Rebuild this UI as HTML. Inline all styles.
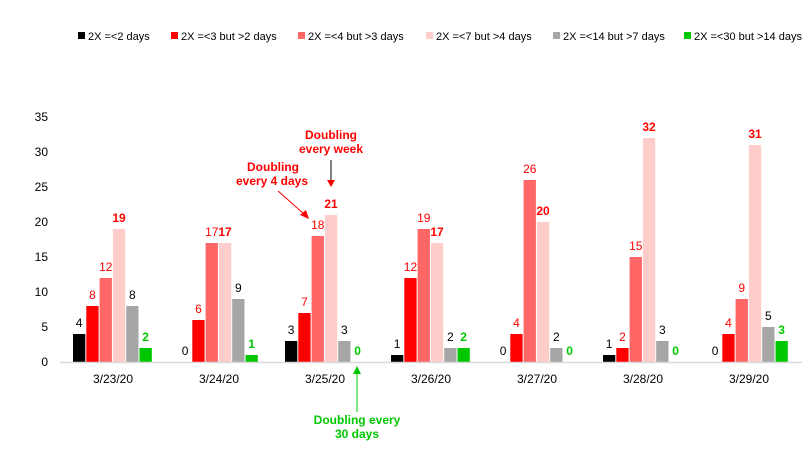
<!DOCTYPE html>
<html><head><meta charset="utf-8"><style>
body{margin:0;background:#fff;}
svg text{font-family:"Liberation Sans",Arial,sans-serif;}
</style></head><body>
<svg id="chart" width="811" height="453" viewBox="0 0 811 453" xmlns="http://www.w3.org/2000/svg">
<g id="legend"></g>
<g id="yaxis"></g>
<g id="bars"></g>
<line x1="60" y1="362.5" x2="802" y2="362.5" stroke="#d9d9d9" stroke-width="1.5"/>
<g id="xaxis"></g>
<g fill="#ff0000" font-weight="bold" font-size="12" text-anchor="middle">
<text x="331" y="139">Doubling</text><text x="331" y="153">every week</text>
<line x1="331" y1="160" x2="331" y2="182" stroke="#000" stroke-width="1"/>
<polygon points="327,180 335,180 331,187" fill="#ff0000"/>
</g>
<g fill="#ff0000" font-weight="bold" font-size="12" text-anchor="middle">
<text x="273" y="171">Doubling</text><text x="272" y="185">every 4 days</text>
<line x1="278" y1="191" x2="304" y2="214" stroke="#ff0000" stroke-width="1"/>
<polygon points="300,215 306,210 309,219" fill="#ff0000"/>
</g>
<g fill="#00c800" font-weight="bold" font-size="12" text-anchor="middle">
<text x="357" y="424">Doubling every</text><text x="357" y="438">30 days</text>
<line x1="357" y1="412" x2="357" y2="372" stroke="#00c800" stroke-width="1"/>
<polygon points="353,374 361,374 357,366" fill="#00c800"/>
</g>
</svg>
<script>
const categories=["3/23/20","3/24/20","3/25/20","3/26/20","3/27/20","3/28/20","3/29/20"];
const seriesNames=["2X =<2 days","2X =<3 but >2 days","2X =<4 but >3 days","2X =<7 but >4 days","2X =<14 but >7 days","2X =<30 but >14 days"];
const s1=[4,0,3,1,0,1,0];
const s2=[8,6,7,12,4,2,4];
const s3=[12,17,18,19,26,15,9];
const s4=[19,17,21,17,20,32,31];
const s5=[8,9,3,2,2,3,5];
const s6=[2,1,0,2,0,0,3];
const yTicks=[0,5,10,15,20,25,30,35];
const series=[s1,s2,s3,s4,s5,s6];
const colors=["#000000","#ff0000","#ff6666","#ffcccc","#a6a6a6","#00c800"];
const labelColors=["#000","#ff0000","#ff0000","#ff0000","#000","#00c800"];
const labelBold=[false,false,false,true,false,true];
const ns="http://www.w3.org/2000/svg";
const x0=60,gw=106,y0=362,pxPerUnit=7;
function y(v){return y0-v*pxPerUnit;}
function gx(i){return x0+i*gw;}
function mk(t,a,p){const e=document.createElementNS(ns,t);for(const k in a)e.setAttribute(k,a[k]);p.appendChild(e);return e;}
const leg=document.getElementById('legend');
const legX=[78,171,298,426,553,684];
seriesNames.forEach((n,i)=>{
 const g=mk('g',{},leg);
 
 
 mk('rect',{x:legX[i],y:32,width:7,height:7,fill:colors[i]},g);
 const t=mk('text',{x:legX[i]+10,y:40,'font-size':11,fill:'#000'},g);t.textContent=n;
});
const ya=document.getElementById('yaxis');
yTicks.forEach(v=>{const t=mk('text',{x:48,y:y(v)+4,'font-size':12,'text-anchor':'end',fill:'#000'},ya);
 
 
 t.textContent=v;});
const xa=document.getElementById('xaxis');
categories.forEach((c,i)=>{const t=mk('text',{x:gx(i)+gw/2,y:383,'font-size':12,'text-anchor':'middle',fill:'#000'},xa);
 
 
 t.textContent=c;});
const bars=document.getElementById('bars');
const bw=12.3,step=13.3;
series.forEach((s,si)=>{s.forEach((v,i)=>{
 const bx=gx(i)+13+si*step;
 const r=mk('rect',{x:bx,y:y(v),width:bw,height:v*pxPerUnit,fill:colors[si]},bars);
 
 
 const t=mk('text',{x:bx+bw/2,y:y(v)-7,'font-size':12,'text-anchor':'middle',fill:labelColors[si],'font-weight':labelBold[si]?'bold':'normal'},bars);
 
 
 t.textContent=v;
});});
</script>
</body></html>
